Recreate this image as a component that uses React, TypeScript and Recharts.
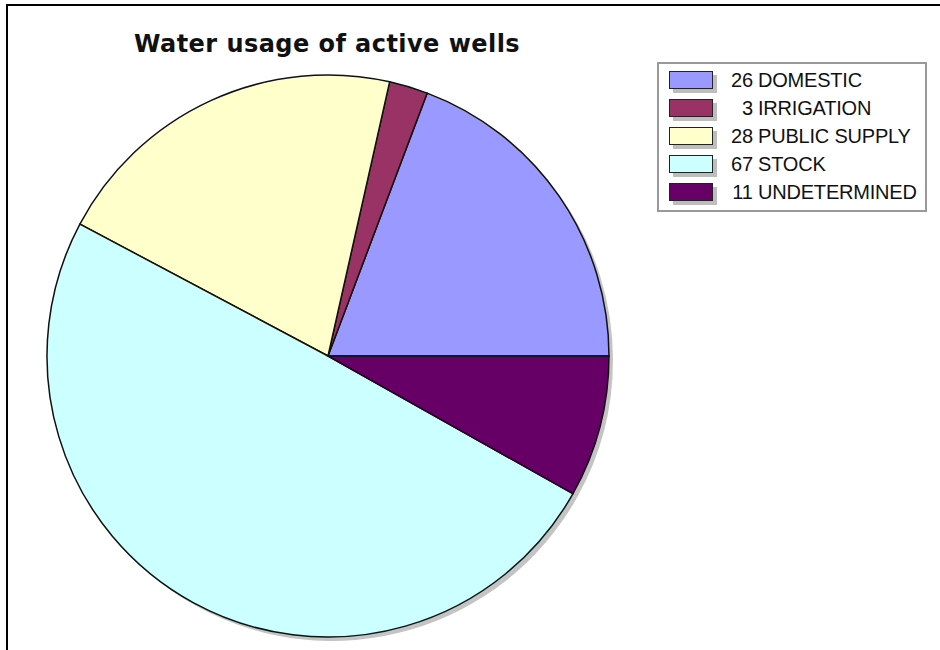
import { PieChart, Pie, Cell, Legend } from 'recharts';

const CATEGORIES = ['DOMESTIC', 'IRRIGATION', 'PUBLIC SUPPLY', 'STOCK', 'UNDETERMINED'];
const WELL_COUNTS = [26, 3, 28, 67, 11];
const SLICE_COLORS = ['#9999ff', '#993366', '#ffffcc', '#ccffff', '#660066'];

const data = CATEGORIES.map((name, i) => ({ name, value: WELL_COUNTS[i] }));

function LegendBox() {
  return (
    <div
      style={{
        boxSizing: 'border-box',
        width: 270,
        height: 150,
        border: '2px solid #999',
        padding: '2px 0 0 10px',
        background: '#fff',
        fontFamily: '"Liberation Sans", Arial, sans-serif',
        fontSize: 20,
        color: '#111',
      }}
    >
      {CATEGORIES.map((name, i) => (
        <div key={name} style={{ display: 'flex', alignItems: 'center', height: 28 }}>
          <span
            style={{
              boxSizing: 'border-box',
              width: 44,
              height: 18,
              background: SLICE_COLORS[i],
              border: '1.5px solid #222',
              boxShadow: '4px 4px 0 #bdbdbd',
              marginRight: 18,
            }}
          />
          <span style={{ width: 22, textAlign: 'right', fontVariantNumeric: 'tabular-nums' }}>
            {WELL_COUNTS[i]}
          </span>
          <span style={{ marginLeft: 5, letterSpacing: -0.2 }}>{name}</span>
        </div>
      ))}
    </div>
  );
}

export default function App() {
  return (
    <div style={{ position: 'absolute', left: 0, top: 0, width: 940, height: 650, background: '#fff', overflow: 'hidden' }}>
      {/* outer frame, only top and left edges are visible in the picture */}
      <div
        style={{
          position: 'absolute',
          left: 6,
          top: 4,
          width: 934,
          height: 646,
          boxSizing: 'border-box',
          borderLeft: '2px solid #000',
          borderTop: '2px solid #000',
        }}
      />
      <div
        style={{
          position: 'absolute',
          left: 0,
          width: 654,
          top: 30,
          textAlign: 'center',
          fontFamily: '"DejaVu Sans", Verdana, sans-serif',
          fontWeight: 'bold',
          fontSize: 24,
          letterSpacing: 0.45,
          color: '#111',
        }}
      >
        Water usage of active wells
      </div>
      <div style={{ position: 'absolute', left: 0, top: 0 }}>
        <PieChart width={940} height={650} margin={{ top: 0, right: 0, bottom: 0, left: 0 }}>
          {/* drop shadow */}
          <Pie
            data={data}
            dataKey="value"
            nameKey="name"
            cx={332}
            cy={360}
            outerRadius={281}
            startAngle={0}
            endAngle={360}
            fill="#c4c4c4"
            stroke="none"
            legendType="none"
            isAnimationActive={false}
          />
          <Pie
            data={data}
            dataKey="value"
            nameKey="name"
            cx={328}
            cy={356}
            outerRadius={281}
            startAngle={0}
            endAngle={360}
            stroke="#111"
            strokeWidth={1.5}
            isAnimationActive={false}
          >
            {data.map((d, i) => (
              <Cell key={d.name} fill={SLICE_COLORS[i]} />
            ))}
          </Pie>
          <Legend
            content={() => <LegendBox />}
            wrapperStyle={{ position: 'absolute', left: 657, top: 62, width: 270 }}
          />
        </PieChart>
      </div>
    </div>
  );
}
